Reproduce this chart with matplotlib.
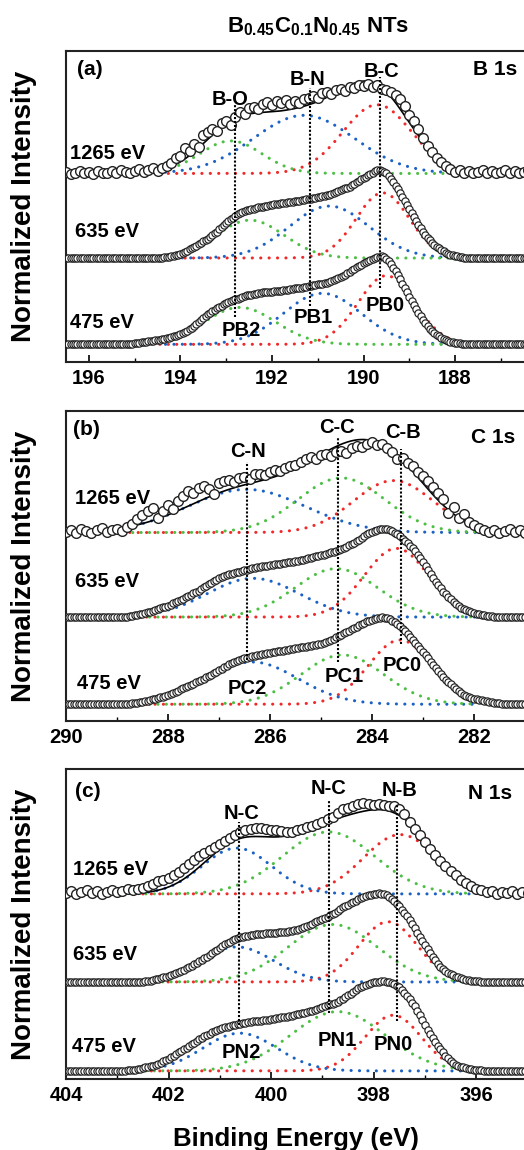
import numpy as np
import matplotlib
matplotlib.use("Agg")
import matplotlib.pyplot as plt
from matplotlib.ticker import MultipleLocator
from matplotlib.transforms import blended_transform_factory

plt.rcParams['font.family'] = ['Liberation Sans', 'DejaVu Sans']
plt.rcParams['font.weight'] = 'bold'
plt.rcParams['mathtext.fontset'] = 'custom'
plt.rcParams['mathtext.rm'] = 'Liberation Sans:bold'
plt.rcParams['mathtext.bf'] = 'Liberation Sans:bold'
plt.rcParams['mathtext.it'] = 'Liberation Sans:bold'

# ---------------------------------------------------------------- data
photon_labels = ["1265 eV", "635 eV", "475 eV"]

# ---- B 1s -------------------------------------------------------------
b1s_xlim = (196.5, 186.45)
b1s_offsets = [1.94, 0.98, 0.0]
b1s_fit_range = (194.45, 188.05)
# 1265 eV spectrum, 0.1 eV steps from 196.5 eV
b1s_1265 = [0.02, -0.01, 0.01, 0.03, 0.00, 0.02, -0.01, 0.03, 0.01, 0.00,
            0.03, 0.01, 0.04, 0.02, 0.00, 0.03, 0.05, 0.02, 0.04, 0.06,
            0.03, 0.06, 0.09, 0.12, 0.17, 0.20, 0.29, 0.25, 0.34, 0.30,
            0.44, 0.47, 0.50, 0.48, 0.57, 0.60, 0.55, 0.64, 0.70, 0.68,
            0.74, 0.76, 0.73, 0.79, 0.81, 0.78, 0.82, 0.80, 0.83, 0.79,
            0.82, 0.80, 0.84, 0.86, 0.88, 0.86, 0.91, 0.92, 0.90, 0.95,
            0.96, 0.94, 0.98, 0.97, 1.00, 0.99, 1.01, 0.98, 1.00, 0.96,
            0.95, 0.92, 0.89, 0.84, 0.77, 0.66, 0.60, 0.50, 0.40, 0.31,
            0.24, 0.17, 0.13, 0.08, 0.05, 0.02, 0.04, 0.01, 0.03, 0.00,
            0.02, 0.04, 0.01, 0.03, 0.00, 0.02, 0.04, 0.01, 0.03, 0.00,
            0.02, 0.04]
# 635 eV spectrum, 0.05 eV steps from 194.5 eV
b1s_635_start = 194.5
b1s_635 = [0, .003, .005, .008, .01, .015, .02, .025, .03, .04,
           .05, .06, .07, .085, .10, .112, .125, .14, .155, .172,
           .19, .205, .22, .24, .26, .28, .30, .325, .35, .375,
           .40, .42, .44, .46, .48, .495, .51, .52, .53, .54,
           .55, .555, .56, .568, .575, .58, .585, .59, .595, .60,
           .605, .608, .61, .615, .62, .625, .63, .632, .635, .64,
           .645, .648, .65, .655, .66, .665, .67, .675, .68, .685,
           .69, .695, .70, .705, .71, .72, .73, .74, .75, .76,
           .77, .78, .79, .80, .81, .825, .84, .86, .88, .895,
           .91, .925, .94, .955, .97, .985, 1.0, 1.0, .99, .975,
           .96, .93, .90, .86, .82, .78, .74, .695, .65, .605,
           .56, .515, .47, .425, .38, .34, .30, .265, .23, .20,
           .17, .15, .13, .11, .09, .075, .06, .05, .04, .032,
           .025, .02, .015, .01, .005, .002, 0]
# 475 eV spectrum, 0.05 eV steps from 195.2 eV
b1s_475_start = 195.2
b1s_475 = [0, .003, .005, .008, .01, .015, .02, .025, .03, .032,
           .035, .038, .04, .045, .05, .055, .06, .065, .07, .075,
           .08, .09, .10, .11, .12, .13, .14, .155, .17, .19,
           .21, .23, .25, .275, .30, .32, .34, .36, .38, .395,
           .41, .425, .44, .455, .47, .48, .49, .50, .51, .52,
           .53, .54, .55, .555, .56, .565, .57, .575, .58, .585,
           .59, .593, .595, .598, .60, .603, .605, .608, .61, .615,
           .62, .622, .625, .63, .635, .638, .64, .645, .65, .655,
           .66, .665, .67, .675, .68, .685, .69, .695, .70, .71,
           .72, .73, .74, .75, .76, .775, .79, .805, .82, .84,
           .86, .875, .89, .905, .92, .935, .95, .96, .97, .98,
           .99, .995, 1.0, .99, .97, .945, .91, .87, .83, .785,
           .74, .69, .64, .59, .54, .495, .45, .405, .36, .32,
           .28, .245, .21, .18, .15, .13, .11, .09, .07, .06,
           .05, .04, .03, .025, .02, .015, .01, .005, 0]
# fitted components (centre eV, height, sigma eV) for 1265 / 635 / 475 eV
b1s_pb0 = [(189.70, 0.78, 0.75), (189.58, 0.74, 0.58), (189.50, 0.78, 0.62)]
b1s_pb1 = [(191.30, 0.66, 1.10), (190.75, 0.59, 0.87), (190.90, 0.58, 0.85)]
b1s_pb2 = [(192.90, 0.37, 0.68), (192.48, 0.43, 0.74), (192.70, 0.42, 0.78)]
b1s_bonds = ["B-O", "B-N", "B-C"]
b1s_bond_energy = [192.80, 191.17, 189.63]
b1s_peaks = ["PB2", "PB1", "PB0"]

# ---- C 1s -------------------------------------------------------------
c1s_xlim = (290.0, 280.98)
c1s_offsets = [1.95, 0.99, 0.0]
c1s_fit_range = (288.75, 281.95)
c1s_1265 = [0.01, 0.03, 0.00, 0.04, 0.02, 0.00, 0.03, 0.05, 0.01, 0.03,
            0.04, 0.02, 0.06, 0.10, 0.15, 0.20, 0.24, 0.28, 0.17, 0.25,
            0.31, 0.27, 0.36, 0.42, 0.47, 0.45, 0.51, 0.53, 0.50, 0.44,
            0.56, 0.58, 0.60, 0.57, 0.62, 0.63, 0.61, 0.66, 0.67, 0.65,
            0.69, 0.71, 0.70, 0.73, 0.75, 0.77, 0.80, 0.84, 0.86, 0.83,
            0.88, 0.89, 0.87, 0.92, 0.93, 0.90, 0.96, 0.98, 0.97, 1.01,
            1.03, 0.99, 1.00, 0.96, 0.92, 0.84, 0.85, 0.79, 0.76, 0.69,
            0.64, 0.58, 0.52, 0.45, 0.38, 0.22, 0.29, 0.16, 0.21, 0.12,
            0.09, 0.05, 0.03, 0.01, 0.03, 0.00, 0.02, 0.04, 0.01, 0.03,
            0.00]
c1s_635_start = 288.9
c1s_635 = [0, .003, .005, .01, .015, .02, .025, .032, .04, .048,
           .055, .062, .07, .08, .09, .10, .11, .12, .13, .142,
           .155, .168, .18, .195, .21, .225, .24, .255, .27, .285,
           .30, .32, .34, .358, .375, .392, .41, .425, .44, .452,
           .465, .475, .485, .492, .50, .508, .515, .522, .53, .538,
           .545, .552, .56, .565, .57, .575, .58, .585, .59, .595,
           .60, .602, .605, .61, .615, .62, .625, .63, .635, .64,
           .645, .652, .66, .668, .675, .682, .69, .695, .70, .71,
           .72, .728, .735, .742, .75, .76, .77, .785, .80, .815,
           .83, .845, .86, .88, .90, .92, .94, .955, .97, .98,
           .99, .995, 1.0, 1.0, 1.0, .99, .98, .96, .94, .915,
           .89, .865, .84, .81, .78, .745, .71, .67, .63, .58,
           .53, .485, .44, .40, .36, .325, .29, .26, .23, .20,
           .17, .148, .125, .108, .09, .078, .065, .055, .045, .038,
           .03, .025, .02, .015, .01, .008, .005, .002, 0]
c1s_475_start = 288.9
c1s_475 = [0, .003, .005, .008, .01, .015, .02, .025, .03, .035,
           .04, .048, .055, .062, .07, .078, .085, .095, .105, .118,
           .13, .142, .155, .168, .18, .192, .205, .22, .235, .248,
           .26, .275, .29, .305, .32, .338, .355, .372, .39, .405,
           .42, .438, .455, .468, .48, .49, .50, .51, .52, .53,
           .54, .545, .55, .558, .565, .57, .575, .58, .585, .59,
           .595, .60, .605, .61, .615, .62, .625, .63, .635, .64,
           .645, .65, .655, .66, .665, .67, .675, .682, .69, .698,
           .705, .718, .73, .745, .76, .775, .79, .805, .82, .835,
           .85, .865, .88, .895, .91, .925, .94, .95, .96, .97,
           .98, .985, .99, .985, .98, .965, .95, .93, .91, .885,
           .86, .83, .80, .765, .73, .695, .66, .625, .59, .555,
           .52, .485, .45, .415, .38, .345, .31, .28, .25, .225,
           .20, .175, .15, .13, .11, .098, .085, .075, .065, .058,
           .05, .045, .04, .035, .03, .025, .02, .015, .01, .005,
           0]
c1s_pc0 = [(283.58, 0.59, 0.78), (283.52, 0.78, 0.63), (283.45, 0.73, 0.62)]
c1s_pc1 = [(284.60, 0.62, 0.85), (284.70, 0.55, 0.81), (284.58, 0.56, 0.81)]
c1s_pc2 = [(286.46, 0.49, 1.15), (286.33, 0.44, 0.90), (286.35, 0.48, 0.90)]
c1s_bonds = ["C-N", "C-C", "C-B"]
c1s_bond_energy = [286.46, 284.66, 283.44]
c1s_peaks = ["PC2", "PC1", "PC0"]

# ---- N 1s -------------------------------------------------------------
n1s_xlim = (404.0, 395.03)
n1s_offsets = [1.97, 0.99, 0.0]
n1s_fit_range = (402.5, 396.1)
n1s_1265 = [0.01, 0.03, 0.00, 0.02, 0.04, 0.01, 0.03, 0.00, 0.02, 0.04,
            0.02, 0.03, 0.05, 0.04, 0.06, 0.07, 0.09, 0.11, 0.14, 0.16,
            0.18, 0.21, 0.24, 0.29, 0.33, 0.38, 0.42, 0.45, 0.49, 0.52,
            0.55, 0.59, 0.62, 0.66, 0.69, 0.71, 0.72, 0.73, 0.73, 0.72,
            0.71, 0.71, 0.70, 0.69, 0.69, 0.71, 0.72, 0.74, 0.76, 0.78,
            0.80, 0.83, 0.86, 0.90, 0.94, 0.96, 0.98, 1.00, 1.01, 1.00,
            0.99, 1.00, 0.99, 0.98, 0.98, 0.95, 0.89, 0.80, 0.72, 0.65,
            0.58, 0.50, 0.43, 0.37, 0.31, 0.26, 0.21, 0.16, 0.12, 0.09,
            0.06, 0.04, 0.02, 0.03, 0.00, 0.02, 0.01, 0.03, 0.00, 0.02,
            0.01]
n1s_635_start = 402.6
n1s_635 = [0, .003, .005, .008, .01, .015, .02, .028, .035, .042,
           .05, .058, .065, .075, .085, .098, .11, .122, .135, .15,
           .165, .18, .195, .212, .23, .248, .265, .282, .30, .32,
           .34, .36, .38, .40, .42, .435, .45, .462, .475, .485,
           .495, .502, .51, .515, .52, .525, .53, .532, .535, .538,
           .54, .542, .545, .548, .55, .552, .555, .558, .56, .565,
           .57, .575, .58, .59, .60, .612, .625, .638, .65, .662,
           .675, .688, .70, .712, .725, .74, .755, .772, .79, .81,
           .83, .845, .86, .875, .89, .905, .92, .932, .945, .955,
           .965, .972, .98, .983, .985, .983, .98, .968, .95, .928,
           .90, .87, .84, .805, .77, .73, .69, .645, .60, .55,
           .50, .455, .41, .365, .32, .28, .24, .205, .17, .145,
           .12, .10, .085, .072, .06, .05, .04, .032, .025, .02,
           .015, .012, .01, .008, .005, .002, 0]
n1s_475_start = 402.9
n1s_475 = [0, .003, .005, .008, .01, .015, .02, .025, .03, .038,
           .045, .052, .06, .07, .08, .092, .105, .12, .135, .152,
           .17, .188, .205, .222, .24, .26, .28, .298, .315, .332,
           .35, .368, .385, .40, .415, .428, .44, .452, .465, .475,
           .485, .492, .50, .508, .515, .52, .525, .53, .535, .54,
           .545, .55, .555, .558, .56, .565, .57, .572, .575, .58,
           .585, .59, .595, .60, .605, .61, .615, .622, .63, .635,
           .64, .648, .655, .662, .67, .68, .69, .70, .71, .72,
           .73, .74, .75, .76, .77, .785, .80, .82, .84, .86,
           .88, .90, .92, .935, .95, .96, .97, .978, .985, .99,
           .995, .998, 1.0, .995, .99, .98, .97, .95, .93, .90,
           .87, .835, .80, .76, .72, .67, .62, .565, .51, .46,
           .41, .365, .32, .28, .24, .205, .17, .14, .11, .09,
           .07, .058, .045, .038, .03, .025, .02, .015, .01, .008,
           .005, .002, 0]
n1s_pn0 = [(397.48, 0.66, 0.72), (397.72, 0.67, 0.57), (397.62, 0.62, 0.55)]
n1s_pn1 = [(398.88, 0.69, 0.90), (398.80, 0.64, 0.87), (398.70, 0.66, 0.92)]
n1s_pn2 = [(400.67, 0.51, 0.68), (400.67, 0.39, 0.72), (400.61, 0.42, 0.72)]
n1s_bonds = ["N-C", "N-C", "N-B"]
n1s_bond_energy = [400.63, 398.87, 397.54]
n1s_peaks = ["PN2", "PN1", "PN0"]

# ---------------------------------------------------------------- style
RED, BLUE, GREEN = "#f02a2a", "#1c62c4", "#4dbf45"
FS = 14.5
fig = plt.figure(figsize=(5.24, 11.5), dpi=100)
W, H = 524.0, 1150.0


def gauss(x, c, h, w):
    return h * np.exp(-0.5 * ((x - c) / w) ** 2)


def on_grid(grid, start, vals, step=0.05):
    y = np.zeros(len(grid))
    i0 = int(round((grid[0] - start) / step))
    n = min(len(vals), len(grid) - i0)
    y[i0:i0 + n] = vals[:n]
    return y


def draw_panel(rect, xlim, ylim, offsets, fit_range, noisy, smooth_635,
               smooth_475, comps, bond_e, bond_names, line_spans, bond_lab,
               peak_names, peak_lab, e_lab, tag, tag_y, core, core_xy):
    ax = fig.add_axes(rect)
    ax.set_xlim(*xlim)
    ax.set_ylim(*ylim)
    x0 = xlim[0]

    # measured spectra: open circles
    g10 = x0 - 0.1 * np.arange(len(noisy))
    n05 = int((xlim[0] - xlim[1]) / 0.05) + 2
    g05 = np.round(x0 - 0.05 * np.arange(n05), 3)
    spectra = [(g10, np.array(noisy), 7.0, 1.0),
               (g05, on_grid(g05, *smooth_635), 5.2, 0.85),
               (g05, on_grid(g05, *smooth_475), 5.2, 0.85)]

    xf = np.linspace(fit_range[0], fit_range[1], 400)
    for k, (gx, gy, ms, mew) in enumerate(spectra):
        off = offsets[k]
        total = np.zeros_like(xf)
        for comp, col, ph in zip(comps, (RED, BLUE, GREEN), (0.0, 0.9, 1.8)):
            c, h, w = comp[k]
            yy = gauss(xf, c, h, w)
            total += yy
            ax.plot(xf, yy + off, color=col, lw=2.2,
                    linestyle=(ph, (0.05, 2.7)), dash_capstyle='round',
                    zorder=2)
        if k == 0:
            # fitted envelope of the noisy high-energy spectrum
            ax.plot(xf, total + off, color='black', lw=1.2, zorder=3)
        ax.plot(gx, gy + off, 'o', ms=ms, mfc='white', mec='#222222',
                mew=mew, zorder=4)

    # bond reference lines and labels
    for e, (y0, y1) in zip(bond_e, line_spans):
        ax.plot([e, e], [y0, y1], color='black', lw=1.5,
                linestyle=(0, (1.0, 0.9)), zorder=5)
    for name, (lx, ly) in zip(bond_names, bond_lab):
        ax.text(lx, ly, name, ha='center', va='center', fontsize=FS,
                fontweight='bold', zorder=6)
    for name, (lx, ly) in zip(peak_names, peak_lab):
        ax.text(lx, ly, name, ha='center', va='center', fontsize=FS,
                fontweight='bold', zorder=6)

    trans = blended_transform_factory(ax.transAxes, ax.transData)
    for lab, (fx, fy) in zip(photon_labels, e_lab):
        ax.text(fx, fy, lab, transform=trans, ha='left', va='center',
                fontsize=FS, fontweight='bold', zorder=6)
    ax.text(tag[0], tag_y, tag[1], transform=ax.transAxes, ha='left',
            va='center', fontsize=FS + 0.5, fontweight='bold')
    ax.text(core_xy[0], core_xy[1], core, transform=ax.transAxes, ha='right',
            va='center', fontsize=FS + 0.5, fontweight='bold')

    ax.xaxis.set_major_locator(MultipleLocator(2))
    ax.xaxis.set_minor_locator(MultipleLocator(1))
    ax.tick_params(axis='x', which='major', direction='in', length=5,
                   width=1.2, labelsize=FS, pad=5, top=False)
    ax.tick_params(axis='x', which='minor', direction='in', length=3,
                   width=1.0, top=False)
    ax.set_yticks([])
    for sp in ax.spines.values():
        sp.set_linewidth(1.5)
        sp.set_color('#222222')
    for lbl in ax.get_xticklabels():
        lbl.set_fontweight('bold')
    return ax


def rect(top_px, bottom_px):
    return [66 / W, 1 - bottom_px / H, 460 / W, (bottom_px - top_px) / H]


# (a) B 1s
draw_panel(rect(51, 362), b1s_xlim, (-0.20, 3.33), b1s_offsets, b1s_fit_range,
           b1s_1265, (b1s_635_start, b1s_635), (b1s_475_start, b1s_475),
           (b1s_pb0, b1s_pb1, b1s_pb2), b1s_bond_energy, b1s_bonds,
           [(0.31, 2.72), (0.44, 2.91), (0.64, 3.03)],
           [(192.92, 2.78), (191.22, 3.01), (189.60, 3.10)],
           b1s_peaks, [(192.68, 0.16), (191.10, 0.31), (189.53, 0.44)],
           [(0.008, 2.17), (0.020, 1.28), (0.009, 0.25)],
           (0.024, '(a)'), 0.942, 'B 1s', (0.98, 0.942))

# (b) C 1s
draw_panel(rect(411, 721), c1s_xlim, (-0.19, 3.33), c1s_offsets, c1s_fit_range,
           c1s_1265, (c1s_635_start, c1s_635), (c1s_475_start, c1s_475),
           (c1s_pc0, c1s_pc2, c1s_pc1), c1s_bond_energy, c1s_bonds,
           [(0.50, 2.75), (0.48, 3.02), (0.69, 2.90)],
           [(286.43, 2.87), (284.68, 3.14), (283.40, 3.09)],
           c1s_peaks, [(286.44, 0.18), (284.55, 0.31), (283.41, 0.44)],
           [(0.020, 2.34), (0.020, 1.39), (0.024, 0.235)],
           (0.016, '(b)'), 0.941, 'C 1s', (0.976, 0.915))

# (c) N 1s
draw_panel(rect(769, 1079), n1s_xlim, (-0.09, 3.36), n1s_offsets, n1s_fit_range,
           n1s_1265, (n1s_635_start, n1s_635), (n1s_475_start, n1s_475),
           (n1s_pn0, n1s_pn2, n1s_pn1), n1s_bond_energy, n1s_bonds,
           [(0.51, 2.77), (0.65, 3.01), (0.55, 2.96)],
           [(400.58, 2.86), (398.89, 3.14), (397.49, 3.12)],
           n1s_peaks, [(400.59, 0.21), (398.71, 0.34), (397.61, 0.29)],
           [(0.016, 2.24), (0.016, 1.29), (0.012, 0.27)],
           (0.020, '(c)'), 0.927, 'N 1s', (0.969, 0.922))

# shared labels
for yc in (206.5, 566.0, 924.0):
    fig.text(24 / W, 1 - yc / H, "Normalized Intensity", rotation=90,
             ha='center', va='center', fontsize=20, fontweight='bold')
fig.text(296 / W, 1 - 1146 / H, "Binding Energy (eV)", ha='center',
         va='baseline', fontsize=18.5, fontweight='bold')
fig.text(318 / W, 1 - 32 / H, r"$\mathbf{B_{0.45}C_{0.1}N_{0.45}}$ NTs",
         ha='center', va='baseline', fontsize=16, fontweight='bold')

fig.savefig("out.png", dpi=100)
